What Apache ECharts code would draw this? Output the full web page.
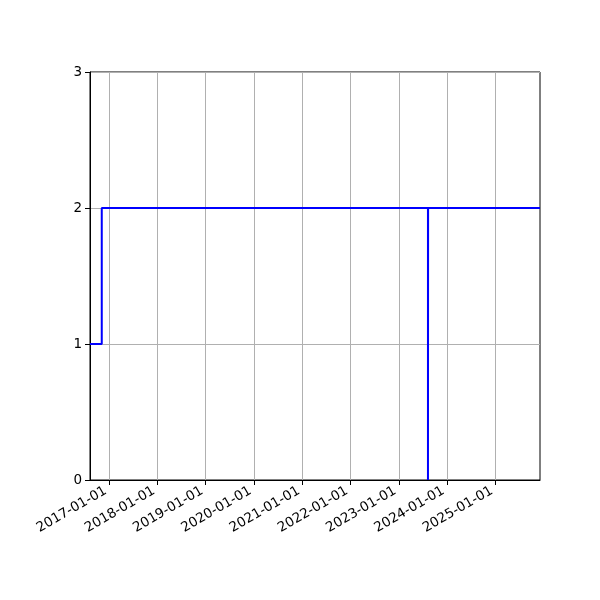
<!DOCTYPE html>
<html>
<head>
<meta charset="utf-8">
<script src="https://cdn.jsdelivr.net/npm/echarts@6/dist/echarts.min.js"></script>
<style>
html,body{margin:0;padding:0;background:#fff;}
#c{width:600px;height:600px;}
</style>
</head>
<body>
<div id="c"></div>
<script>
// Data
const dates = ['2016-08-08', '2016-11-05', '2023-08-10', '2023-08-11', '2025-12-05'];
const values = [1, 2, 0, 2, 2];
const xTickLabels = ['2017-01-01', '2018-01-01', '2019-01-01', '2020-01-01', '2021-01-01', '2022-01-01', '2023-01-01', '2024-01-01', '2025-01-01'];
const yTicks = [0, 1, 2, 3];

function ts(s) {
  const p = s.split('-').map(Number);
  return Date.UTC(p[0], p[1] - 1, p[2]);
}
function fmt(v) {
  const d = new Date(v);
  const pad = n => (n < 10 ? '0' : '') + n;
  return d.getUTCFullYear() + '-' + pad(d.getUTCMonth() + 1) + '-' + pad(d.getUTCDate());
}

const seriesData = dates.map((d, i) => [ts(d), values[i]]);
const xTickValues = xTickLabels.map(ts);

const chart = echarts.init(document.getElementById('c'), null, {renderer: 'canvas'});
chart.setOption({
  animation: false,
  backgroundColor: '#fff',
  textStyle: {fontFamily: 'DejaVu Sans'},
  grid: {left: 90, right: 60, top: 72, bottom: 120, show: true, borderColor: '#000', borderWidth: 1, backgroundColor: 'transparent', containLabel: false},
  xAxis: {
    type: 'value',
    scale: true,
    min: ts(dates[0]),
    max: ts(dates[dates.length - 1]),
    axisLine: {show: true, onZero: false, lineStyle: {color: '#000', width: 1}},
    axisTick: {show: true, inside: false, length: 5, lineStyle: {color: '#000', width: 1}, customValues: xTickValues},
    axisLabel: {
      customValues: xTickValues,
      rotate: 30,
      margin: 16,
      verticalAlign: 'bottom',
      fontSize: 13.5,
      color: '#000',
      fontFamily: 'DejaVu Sans',
      formatter: v => fmt(v),
      hideOverlap: false,
      showMinLabel: true,
      showMaxLabel: true
    },
    splitLine: {show: true, lineStyle: {color: '#b0b0b0', width: 1}},
    minorTick: {show: false}
  },
  yAxis: {
    type: 'value',
    min: yTicks[0],
    max: yTicks[yTicks.length - 1],
    interval: 1,
    axisLine: {show: true, lineStyle: {color: '#000', width: 1}},
    axisTick: {show: true, inside: false, length: 5, lineStyle: {color: '#000', width: 1}},
    axisLabel: {margin: 8, fontSize: 13.5, color: '#000', fontFamily: 'DejaVu Sans'},
    splitLine: {show: true, lineStyle: {color: '#b0b0b0', width: 1}}
  },
  series: [{
    type: 'line',
    step: 'end',
    data: seriesData,
    showSymbol: false,
    symbol: 'none',
    lineStyle: {color: '#0000ff', width: 2},
    itemStyle: {color: '#0000ff'},
    clip: true
  }]
});
</script>
</body>
</html>
